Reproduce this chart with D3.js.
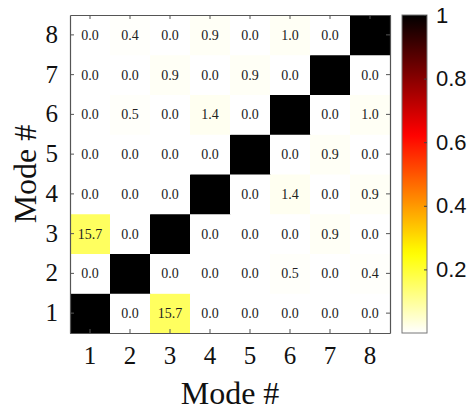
<!DOCTYPE html>
<html>
<head>
<meta charset="utf-8">
<script src="https://cdnjs.cloudflare.com/ajax/libs/d3/7.8.5/d3.min.js"></script>
<style>
  body { margin: 0; background: #fff; }
  svg { display: block; }
</style>
</head>
<body>
<div id="chart"></div>
<script>
// data: overlap (%) between modes, rows = y mode (1..8), cols = x mode (1..8); diagonal = 100
var modes = [1, 2, 3, 4, 5, 6, 7, 8];
var row1 = [100, 0.0, 15.7, 0.0, 0.0, 0.0, 0.0, 0.0];
var row2 = [0.0, 100, 0.0, 0.0, 0.0, 0.5, 0.0, 0.4];
var row3 = [15.7, 0.0, 100, 0.0, 0.0, 0.0, 0.9, 0.0];
var row4 = [0.0, 0.0, 0.0, 100, 0.0, 1.4, 0.0, 0.9];
var row5 = [0.0, 0.0, 0.0, 0.0, 100, 0.0, 0.9, 0.0];
var row6 = [0.0, 0.5, 0.0, 1.4, 0.0, 100, 0.0, 1.0];
var row7 = [0.0, 0.0, 0.9, 0.0, 0.9, 0.0, 100, 0.0];
var row8 = [0.0, 0.4, 0.0, 0.9, 0.0, 1.0, 0.0, 100];
var colorbarTicks = [0.2, 0.4, 0.6, 0.8, 1];

var rows = [row1, row2, row3, row4, row5, row6, row7, row8];
var cells = [];
rows.forEach(function(r, i) {
  r.forEach(function(v, j) {
    cells.push({y: modes[i], x: modes[j], v: v});
  });
});

var svgWidth = 469, svgHeight = 411;
var margin = {top: 15, left: 70, right: 79, bottom: 78};
var plotW = svgWidth - margin.left - margin.right;   // 320
var plotH = svgHeight - margin.top - margin.bottom;  // 318

// reversed matlab "hot": 0 -> white, 1 -> black
function hotRev(t) {
  var s = 1 - Math.max(0, Math.min(1, t));
  var r = Math.min(1, s / 0.375);
  var g = Math.max(0, Math.min(1, (s - 0.375) / 0.375));
  var b = Math.max(0, Math.min(1, (s - 0.75) / 0.25));
  return d3.rgb(r * 255, g * 255, b * 255);
}

var svg = d3.select("#chart").append("svg")
  .attr("width", svgWidth).attr("height", svgHeight);
svg.append("rect").attr("width", svgWidth).attr("height", svgHeight).attr("fill", "#fff");

var chartGroup = svg.append("g")
  .attr("transform", `translate(${margin.left}, ${margin.top})`);

var xScale = d3.scaleBand().domain(modes).range([0, plotW]);
var yScale = d3.scaleBand().domain(modes).range([plotH, 0]);

// cells
chartGroup.selectAll("rect.cell").data(cells).enter()
  .append("rect")
  .attr("class", "cell")
  .attr("x", d => xScale(d.x))
  .attr("y", d => yScale(d.y))
  .attr("width", xScale.bandwidth() + 0.5)
  .attr("height", yScale.bandwidth() + 0.5)
  .attr("fill", d => hotRev(d.v / 100));

// cell labels (skip the diagonal)
chartGroup.selectAll("text.val").data(cells.filter(d => d.x !== d.y)).enter()
  .append("text")
  .attr("class", "val")
  .attr("x", d => xScale(d.x) + xScale.bandwidth() / 2)
  .attr("y", d => yScale(d.y) + yScale.bandwidth() / 2)
  .attr("dy", "0.35em")
  .attr("text-anchor", "middle")
  .style("font-family", "'Liberation Serif', 'DejaVu Serif', serif")
  .style("font-size", "14px")
  .style("fill", "#222")
  .text(d => d.v.toFixed(1));

// axes (matlab style: ticks inside, box)
var axisColor = "#555";
var bottomAxis = d3.axisBottom(xScale).tickSizeInner(-4).tickSizeOuter(0).tickPadding(12);
var leftAxis = d3.axisLeft(yScale).tickSizeInner(-4).tickSizeOuter(0).tickPadding(12);
var topAxis = d3.axisTop(xScale).tickSizeInner(-4).tickSizeOuter(0).tickFormat("");
var rightAxis = d3.axisRight(yScale).tickSizeInner(-4).tickSizeOuter(0).tickFormat("");

var gx = chartGroup.append("g").attr("transform", `translate(0, ${plotH})`).call(bottomAxis);
var gy = chartGroup.append("g").call(leftAxis);
var gt = chartGroup.append("g").call(topAxis);
var gr = chartGroup.append("g").attr("transform", `translate(${plotW}, 0)`).call(rightAxis);

[gx, gy, gt, gr].forEach(function(g) {
  g.selectAll("path").attr("stroke", axisColor).attr("stroke-width", 1.2);
  g.selectAll("line").attr("stroke", axisColor);
  g.selectAll("text")
    .style("font-family", "'Liberation Serif', 'DejaVu Serif', serif")
    .style("font-size", "25px")
    .style("fill", "#111");
});
gx.selectAll("text").attr("dy", "0.75em");

// axis labels
svg.append("text")
  .attr("x", margin.left + plotW / 2)
  .attr("y", 404)
  .attr("text-anchor", "middle")
  .style("font-family", "'Liberation Serif', 'DejaVu Serif', serif")
  .style("font-size", "32px")
  .style("fill", "#111")
  .text("Mode #");

svg.append("text")
  .attr("transform", `translate(36, ${margin.top + plotH / 2}) rotate(-90)`)
  .attr("text-anchor", "middle")
  .style("font-family", "'Liberation Serif', 'DejaVu Serif', serif")
  .style("font-size", "32px")
  .style("fill", "#111")
  .text("Mode #");

// colorbar
var cbX = 402, cbW = 25;
var cScale = d3.scaleLinear().domain([0, 1]).range([margin.top + plotH, margin.top]);
var defs = svg.append("defs");
var grad = defs.append("linearGradient").attr("id", "cbgrad")
  .attr("x1", 0).attr("y1", 1).attr("x2", 0).attr("y2", 0);
grad.selectAll("stop").data(d3.range(0, 1.0001, 0.02)).enter()
  .append("stop")
  .attr("offset", d => d)
  .attr("stop-color", d => hotRev(d));

svg.append("rect")
  .attr("x", cbX).attr("y", cScale(1))
  .attr("width", cbW).attr("height", cScale(0) - cScale(1))
  .attr("fill", "url(#cbgrad)")
  .attr("stroke", "#777").attr("stroke-width", 1);

var cbAxis = d3.axisRight(cScale).tickValues(colorbarTicks)
  .tickSizeInner(-3).tickSizeOuter(0).tickPadding(9)
  .tickFormat(d => d === 1 ? "1" : d.toFixed(1));
var gcb = svg.append("g").attr("transform", `translate(${cbX + cbW}, 0)`).call(cbAxis);
gcb.select("path").remove();
gcb.selectAll("line").attr("stroke", "#444");
gcb.selectAll("text")
  .style("font-family", "'Liberation Sans', Arial, sans-serif")
  .style("font-size", "22px")
  .style("fill", "#111");
</script>
</body>
</html>
